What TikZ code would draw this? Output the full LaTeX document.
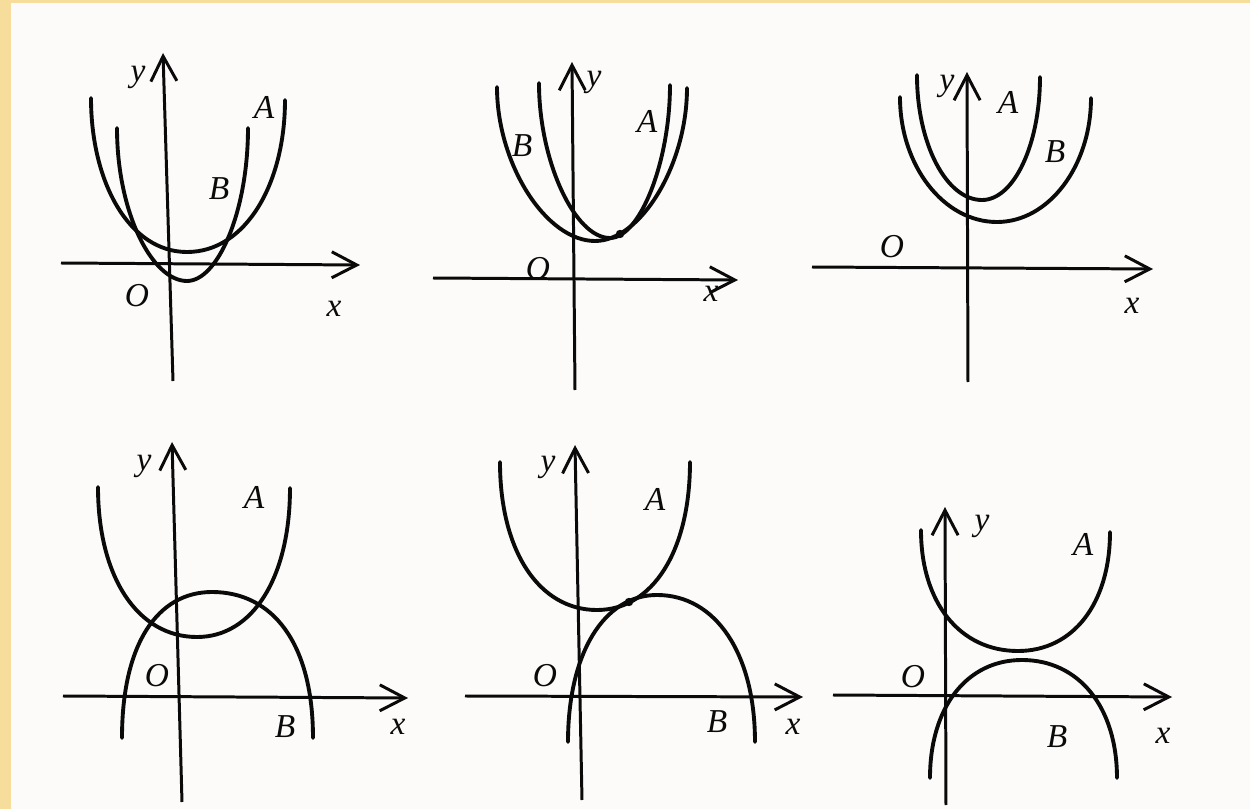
\documentclass[tikz,border=0pt]{standalone}
\usepackage{fontspec}
\setmainfont{Liberation Serif}
\usetikzlibrary{arrows.meta}
\definecolor{paper}{RGB}{252,251,249}
\definecolor{framecol}{RGB}{246,221,156}
\definecolor{inkcol}{RGB}{10,10,10}
\tikzset{
  axisln/.style={-{Straight Barb[length=2.5mm,width=2.6mm]}, line width=0.85pt, inkcol},
  curveln/.style={line width=1.1pt, line cap=round, line join=round, inkcol},
  lbl/.style={inkcol, font=\fontsize{9.5}{11}\selectfont\itshape, inner sep=0pt},
}
% vertex (#1,#2), left end (#3,#4), right end (#5,#6), handles #7 #8
\newcommand{\ucurve}[8]{%
  \draw[curveln] (#3,#4) .. controls (#3,{#4+#8*(#2-#4)}) and ({#1-#7*(#1-#3)},#2) .. (#1,#2)
    .. controls ({#1+#7*(#5-#1)},#2) and (#5,{#6+#8*(#2-#6)}) .. (#5,#6);
}
\newcommand{\dotpt}[1]{\fill[inkcol] #1 circle (0.42mm);}

\begin{document}
\begin{tikzpicture}[x=0.01cm, y=-0.01cm]
    \useasboundingbox (0,0) rectangle (1250,809);
    \fill[paper] (0,0) rectangle (1250,809);
    \fill[framecol] (0,0) rectangle (11,809);
    \fill[framecol] (0,0) rectangle (1250,3);
    % panel 1
    \draw[axisln] (173,381) -- (163,53);
    \draw[axisln] (61,263) -- (360,265);
    \ucurve{187}{252}{91}{98}{285}{100}{0.6}{0.55}
    \ucurve{187}{281}{117}{128}{248}{128}{0.5}{0.55}
    \node[lbl] (y1) at (138,77) {y};
    \node[lbl] (A1) at (264,107) {A};
    \node[lbl] (B1) at (219,189) {B};
    \node[lbl] (O1) at (137,296) {O};
    \node[lbl] (x1) at (334,309) {x};
    % panel 2
    \draw[axisln] (575,390) -- (572,62);
    \draw[axisln] (433,278) -- (738,280);
    \ucurve{595}{241}{497}{87}{687}{88}{0.5}{0.5}
    \ucurve{610}{238}{539}{83}{670}{85}{0.5}{0.5}
    \dotpt{(620,234)}
    \node[lbl] (y2) at (594,82) {y};
    \node[lbl] (A2) at (647,121) {A};
    \node[lbl] (B2) at (522,146) {B};
    \node[lbl] (O2) at (538,269) {O};
    \node[lbl] (x2) at (711,294) {x};
    % panel 3
    \draw[axisln] (968,382) -- (967,72);
    \draw[axisln] (812,267) -- (1153,269);
    \ucurve{982}{200}{917}{75}{1040}{77}{0.55}{0.55}
    \ucurve{997}{222}{900}{97}{1091}{98}{0.55}{0.55}
    \node[lbl] (y3) at (947,86) {y};
    \node[lbl] (A3) at (1008,102) {A};
    \node[lbl] (B3) at (1055,152) {B};
    \node[lbl] (O3) at (892,247) {O};
    \node[lbl] (x3) at (1132,306) {x};
    % panel 4
    \draw[axisln] (182,802) -- (172,442);
    \draw[axisln] (63,696) -- (408,698);
    \ucurve{197}{637}{98}{487}{290}{488}{0.6}{0.6}
    \ucurve{212}{592}{122}{738}{313}{738}{0.6}{0.65}
    \node[lbl] (y4) at (144,466) {y};
    \node[lbl] (A4) at (254,497) {A};
    \node[lbl] (O4) at (157,676) {O};
    \node[lbl] (B4) at (285,727) {B};
    \node[lbl] (x4) at (398,727) {x};
    % panel 5
    \draw[axisln] (582,800) -- (575,445);
    \draw[axisln] (465,696) -- (803,697);
    \ucurve{597}{610}{500}{462}{690}{462}{0.6}{0.6}
    \ucurve{657}{595}{568}{742}{755}{742}{0.6}{0.6}
    \dotpt{(629,602)}
    \node[lbl] (y5) at (548,467) {y};
    \node[lbl] (A5) at (655,499) {A};
    \node[lbl] (O5) at (545,676) {O};
    \node[lbl] (B5) at (717,722) {B};
    \node[lbl] (x5) at (793,727) {x};
    % panel 6
    \draw[axisln] (946,805) -- (945,507);
    \draw[axisln] (833,695) -- (1172,697);
    \ucurve{1018}{651}{921}{530}{1110}{532}{0.6}{0.6}
    \ucurve{1022}{660}{930}{778}{1117}{778}{0.6}{0.6}
    \node[lbl] (y6) at (982,526) {y};
    \node[lbl] (A6) at (1083,544) {A};
    \node[lbl] (O6) at (913,677) {O};
    \node[lbl] (B6) at (1057,737) {B};
    \node[lbl] (x6) at (1163,736) {x};
\end{tikzpicture}
\end{document}
